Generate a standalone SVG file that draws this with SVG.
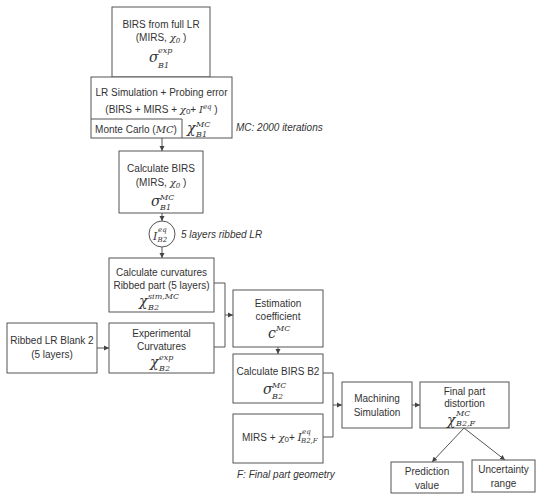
<svg xmlns="http://www.w3.org/2000/svg" width="550" height="499" viewBox="0 0 550 499">
<defs>
<marker id="ah" markerWidth="6" markerHeight="6" refX="5" refY="3" orient="auto" markerUnits="userSpaceOnUse">
<path d="M0,0.5 L5,3 L0,5.5 Z" fill="#444"/>
</marker>
<style>
.box{fill:#fff;stroke:#555;stroke-width:1}
.ln{fill:none;stroke:#555;stroke-width:1}
.t{font-family:"Liberation Sans",Arial,sans-serif;font-size:10px;fill:#333;text-anchor:middle}
.ts{font-family:"Liberation Sans",Arial,sans-serif;font-size:10px;fill:#333}
.it{font-family:"Liberation Sans",Arial,sans-serif;font-size:10px;fill:#333;font-style:italic}
.m{font-family:"DejaVu Serif","Liberation Serif",serif;font-style:italic;fill:#333}
.big{font-size:14px}
.sup{font-size:8px}
</style>
</defs>
<rect width="550" height="499" fill="#fff"/>
<g id="connectors">
<path class="ln" d="M161,74 V78" marker-end="url(#ah)"/>
<path class="ln" d="M162,138 V151" marker-end="url(#ah)"/>
<path class="ln" d="M162,213 V221" marker-end="url(#ah)"/>
<path class="ln" d="M162,247 V258" marker-end="url(#ah)"/>
<path class="ln" d="M97,348 H109" marker-end="url(#ah)"/>
<path class="ln" d="M214,283 H225 V347 H214"/>
<path class="ln" d="M225,315 H233" marker-end="url(#ah)"/>
<path class="ln" d="M278,347 V354" marker-end="url(#ah)"/>
<path class="ln" d="M323,373 H333 V437 H323"/>
<path class="ln" d="M333,405 H342" marker-end="url(#ah)"/>
<path class="ln" d="M412,405 H420" marker-end="url(#ah)"/>
<path class="ln" d="M464,428 L432,462" marker-end="url(#ah)"/>
<path class="ln" d="M464,428 L505,460" marker-end="url(#ah)"/>
</g>
<g id="n1">
<rect class="box" x="112" y="7" width="98" height="70"/>
<text class="t" x="161" y="28">BIRS from full LR</text>
<text class="t" x="161" y="41">(MIRS, <tspan class="m">χ<tspan font-size="7" dy="2">0</tspan></tspan><tspan dy="-2"> )</tspan></text>
<text class="m big" x="149" y="62">σ</text>
<text class="m sup" x="158" y="53">exp</text>
<text class="m sup" x="158" y="68">B1</text>
</g>
<g id="n2">
<rect class="box" x="91" y="77" width="141" height="61"/>
<path class="ln" d="M91,119 H182 V138"/>
<text class="t" x="161.5" y="96">LR Simulation + Probing error</text>
<text class="t" x="161.5" y="113">(BIRS + MIRS + <tspan class="m">χ</tspan><tspan font-size="8" dy="1">0</tspan><tspan dy="-1">+ </tspan><tspan class="m">I</tspan><tspan class="m" font-size="7" dy="-4">eq</tspan><tspan dy="4"> )</tspan></text>
<text class="t" x="136" y="133">Monte Carlo (<tspan class="m">MC</tspan>)</text>
<text class="m big" x="187" y="133">χ</text>
<text class="m sup" x="196" y="127">MC</text>
<text class="m sup" x="196" y="137">B1</text>
</g>
<text class="it" x="236" y="131">MC: 2000 iterations</text>
<g id="n3">
<rect class="box" x="119" y="151" width="84" height="62"/>
<text class="t" x="161" y="172">Calculate BIRS</text>
<text class="t" x="161" y="186">(MIRS, <tspan class="m">χ<tspan font-size="7" dy="2">0</tspan></tspan><tspan dy="-2"> )</tspan></text>
<text class="m big" x="151" y="206">σ</text>
<text class="m sup" x="160" y="200">MC</text>
<text class="m sup" x="160" y="210">B1</text>
</g>
<g id="n4">
<circle class="box" cx="162" cy="234" r="13"/>
<text class="m" font-size="11" x="153" y="240">I</text>
<text class="m" font-size="7" x="158" y="232">eq</text>
<text class="m" font-size="7" x="157.5" y="242">B2</text>
</g>
<text class="it" x="181" y="238">5 layers ribbed LR</text>
<g id="n5">
<rect class="box" x="109" y="258" width="105" height="54"/>
<text class="t" x="161.5" y="276">Calculate curvatures</text>
<text class="t" x="161.5" y="289" font-size="9.6">Ribbed part (5 layers)</text>
<text class="m big" x="139" y="306">χ</text>
<text class="m sup" x="148" y="299">sim,MC</text>
<text class="m sup" x="148" y="310">B2</text>
</g>
<g id="n6">
<rect class="box" x="7" y="323" width="90" height="50"/>
<text class="t" x="52" y="344">Ribbed LR Blank 2</text>
<text class="t" x="52" y="358">(5 layers)</text>
</g>
<g id="n7">
<rect class="box" x="109" y="323" width="105" height="50"/>
<text class="t" x="161.5" y="337">Experimental</text>
<text class="t" x="161.5" y="350">Curvatures</text>
<text class="m big" x="150" y="367">χ</text>
<text class="m sup" x="159" y="360">exp</text>
<text class="m sup" x="159" y="371">B2</text>
</g>
<g id="n8">
<rect class="box" x="233" y="290" width="90" height="57"/>
<text class="t" x="278" y="307">Estimation</text>
<text class="t" x="278" y="320">coefficient</text>
<text class="m" font-size="14" x="268" y="338">c</text>
<text class="m sup" x="276" y="331">MC</text>
</g>
<g id="n9">
<rect class="box" x="233" y="354" width="90" height="49"/>
<text class="t" x="278" y="375">Calculate BIRS B2</text>
<text class="m big" x="263" y="394">σ</text>
<text class="m sup" x="272" y="388">MC</text>
<text class="m sup" x="272" y="399">B2</text>
</g>
<g id="n10">
<rect class="box" x="233" y="414" width="90" height="49"/>
<text class="ts" x="242" y="441">MIRS + <tspan class="m">χ</tspan><tspan font-size="8" dy="1">0</tspan><tspan dy="-1">+ </tspan><tspan class="m" font-size="11">I</tspan></text>
<text class="m" font-size="7" x="302" y="434">eq</text>
<text class="m" font-size="7" x="301" y="443">B2,F</text>
</g>
<text class="it" x="237" y="478">F: Final part geometry</text>
<g id="n11">
<rect class="box" x="342" y="382" width="70" height="46"/>
<text class="t" x="377" y="402">Machining</text>
<text class="t" x="377" y="416">Simulation</text>
</g>
<g id="n12">
<rect class="box" x="420" y="382" width="89" height="46"/>
<text class="t" x="464.5" y="395">Final part</text>
<text class="t" x="464.5" y="407">distortion</text>
<text class="m big" x="447" y="425">χ</text>
<text class="m sup" x="456" y="416">MC</text>
<text class="m sup" x="456" y="426">B2,F</text>
</g>
<g id="n13">
<rect class="box" x="391" y="462" width="72" height="31"/>
<text class="t" x="427" y="475">Prediction</text>
<text class="t" x="427" y="489">value</text>
</g>
<g id="n14">
<rect class="box" x="472" y="460" width="63" height="32"/>
<text class="t" x="503.5" y="473">Uncertainty</text>
<text class="t" x="503.5" y="487">range</text>
</g>
</svg>
